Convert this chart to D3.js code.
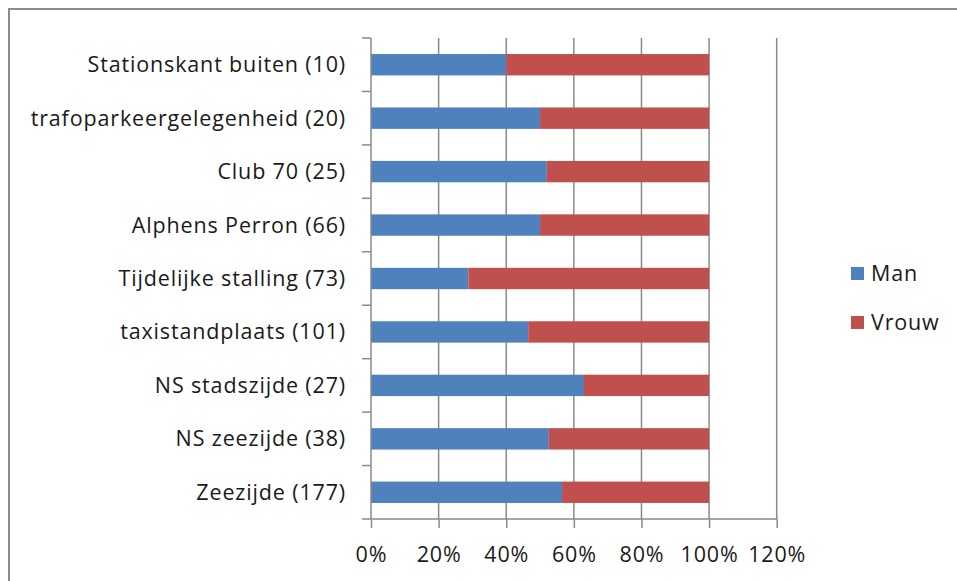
<!DOCTYPE html>
<html>
<head>
<meta charset="utf-8">
<script src="https://cdn.jsdelivr.net/npm/d3@7"></script>
<style>
  html, body { margin: 0; padding: 0; background: #fff; }
  svg { display: block; }
  text { font-family: "Open Sans", "Liberation Sans", sans-serif; fill: #1a1a1a; }
</style>
</head>
<body>
<svg id="chart" width="957" height="581"></svg>
<script>
// Locations (with sample size), top to bottom
const categories = [
  "Stationskant buiten (10)",
  "trafoparkeergelegenheid (20)",
  "Club 70 (25)",
  "Alphens Perron (66)",
  "Tijdelijke stalling (73)",
  "taxistandplaats (101)",
  "NS stadszijde (27)",
  "NS zeezijde (38)",
  "Zeezijde (177)"
];
// Share of men / women per location (fractions)
const man   = [0.40, 0.50, 0.52, 0.50, 0.288, 0.465, 0.63, 0.526, 0.565];
const vrouw = man.map(v => 1 - v);
const seriesNames = ["Man", "Vrouw"];
const seriesColors = ["#4f81bd", "#c0504d"];
const xTicks = [0, 0.2, 0.4, 0.6, 0.8, 1.0, 1.2];

const FONT = "'Open Sans', 'Liberation Sans', sans-serif";
const FS = 21.5;
const LS = "0.85px";

const svg = d3.select("#chart");

// outer chart frame
svg.append("rect")
  .attr("x", 9).attr("y", 9)
  .attr("width", 960).attr("height", 590)
  .attr("fill", "#fff")
  .attr("stroke", "#8c8c8c").attr("stroke-width", 2);

const plot = { left: 371, right: 776.7, top: 38, bottom: 519 };

const x = d3.scaleLinear().domain([0, 1.2]).range([plot.left, plot.right]);
const y = d3.scaleBand().domain(categories).range([plot.top, plot.bottom]).paddingInner(0.6).paddingOuter(0.3);
const yBand = d3.scaleBand().domain(categories).range([plot.top, plot.bottom]);

// vertical gridlines
svg.append("g").selectAll("line").data(xTicks.slice(1)).join("line")
  .attr("x1", d => x(d)).attr("x2", d => x(d))
  .attr("y1", plot.top).attr("y2", plot.bottom)
  .attr("stroke", "#8a8a8a").attr("stroke-width", 1.5);

// stacked bars
const rows = categories.map((c, i) => ({ cat: c, Man: man[i], Vrouw: vrouw[i] }));
const stacked = d3.stack().keys(seriesNames)(rows);
svg.append("g").selectAll("g").data(stacked).join("g")
  .attr("fill", (d, i) => seriesColors[i])
  .selectAll("rect").data(d => d).join("rect")
  .attr("x", d => x(d[0]))
  .attr("width", d => x(d[1]) - x(d[0]))
  .attr("y", d => y(d.data.cat))
  .attr("height", y.bandwidth());

// x axis
const xAxis = d3.axisBottom(x).tickValues(xTicks)
  .tickFormat(d3.format(".0%")).tickSize(9).tickSizeOuter(0).tickPadding(19);
const gx = svg.append("g").attr("transform", `translate(0,${plot.bottom})`).call(xAxis);
gx.select(".domain").remove();
gx.selectAll(".tick line").attr("stroke", "#8a8a8a").attr("stroke-width", 1.5);
gx.selectAll("text").attr("font-size", FS).attr("fill", "#1a1a1a")
  .style("font-family", FONT).style("letter-spacing", LS);
svg.append("line")
  .attr("x1", plot.left - 9).attr("x2", plot.right)
  .attr("y1", plot.bottom).attr("y2", plot.bottom)
  .attr("stroke", "#8a8a8a").attr("stroke-width", 1.5);

// y axis line with category boundary ticks
svg.append("line")
  .attr("x1", plot.left).attr("x2", plot.left)
  .attr("y1", plot.top).attr("y2", plot.bottom)
  .attr("stroke", "#8a8a8a").attr("stroke-width", 1.5);
svg.append("g").selectAll("line").data(categories).join("line")
  .attr("x1", plot.left - 9).attr("x2", plot.left)
  .attr("y1", d => yBand(d)).attr("y2", d => yBand(d))
  .attr("stroke", "#8a8a8a").attr("stroke-width", 1.5);

// category labels
svg.append("g").selectAll("text").data(categories).join("text")
  .attr("x", 346)
  .attr("y", d => yBand(d) + yBand.bandwidth() / 2)
  .attr("dy", "0.35em")
  .attr("text-anchor", "end")
  .attr("font-size", FS)
  .style("letter-spacing", LS)
  .text(d => d);

// legend
const legend = svg.append("g").selectAll("g").data(seriesNames).join("g")
  .attr("transform", (d, i) => `translate(851,${267 + i * 49})`);
legend.append("rect").attr("width", 13).attr("height", 13)
  .attr("fill", (d, i) => seriesColors[i]);
legend.append("text").attr("x", 20).attr("y", 6.5).attr("dy", "0.35em")
  .attr("font-size", FS).style("letter-spacing", LS).text(d => d);
</script>
</body>
</html>
